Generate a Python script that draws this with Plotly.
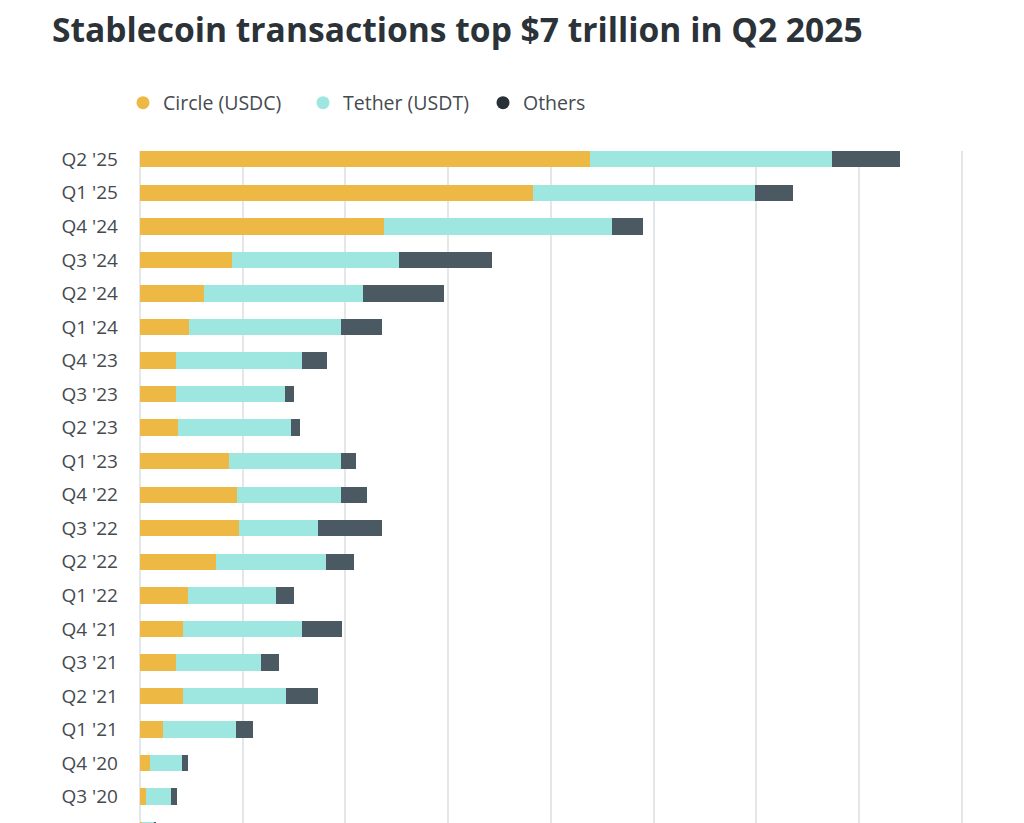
import plotly.graph_objects as go

quarters = ["Q2 '25", "Q1 '25", "Q4 '24", "Q3 '24", "Q2 '24", "Q1 '24",
            "Q4 '23", "Q3 '23", "Q2 '23", "Q1 '23", "Q4 '22", "Q3 '22",
            "Q2 '22", "Q1 '22", "Q4 '21", "Q3 '21", "Q2 '21", "Q1 '21",
            "Q4 '20", "Q3 '20", "Q2 '20"]

# Transaction volume, $ trillions
circle_usdc = [4.38, 3.83, 2.38, 0.90, 0.62, 0.48,
               0.35, 0.35, 0.37, 0.87, 0.94, 0.96,
               0.74, 0.47, 0.42, 0.35, 0.42, 0.22,
               0.10, 0.06, 0.02]
tether_usdt = [2.36, 2.16, 2.22, 1.62, 1.55, 1.48,
               1.23, 1.06, 1.10, 1.09, 1.02, 0.77,
               1.07, 0.85, 1.16, 0.83, 1.00, 0.71,
               0.31, 0.24, 0.12]
others = [0.66, 0.37, 0.30, 0.91, 0.79, 0.40,
          0.24, 0.09, 0.09, 0.14, 0.25, 0.63,
          0.27, 0.18, 0.39, 0.17, 0.31, 0.17,
          0.06, 0.06, 0.02]

series_names = ["Circle (USDC)", "Tether (USDT)", "Others"]
bar_colors = ["#EDB843", "#9EE7E1", "#4B5963"]
legend_colors = ["#EDB843", "#9EE7E1", "#2A3136"]
series_values = [circle_usdc, tether_usdt, others]

FONT = "Open Sans"

fig = go.Figure()
for name, vals, col in zip(series_names, series_values, bar_colors):
    fig.add_trace(go.Bar(
        y=quarters, x=vals, name=name, orientation="h",
        marker=dict(color=col, line=dict(width=0)),
        showlegend=False,
    ))
for name, col in zip(series_names, legend_colors):
    fig.add_trace(go.Scatter(
        x=[None], y=[None], mode="markers", name=name,
        marker=dict(color=col, size=13, symbol="circle"),
        showlegend=True,
    ))

fig.update_layout(
    width=1024, height=823,
    margin=dict(l=140, r=11, t=151, b=0),
    paper_bgcolor="white", plot_bgcolor="white",
    barmode="stack", bargap=0.51,
    font=dict(family=FONT, color="#454a4f"),
    title=dict(
        text="<b>Stablecoin transactions top $7 trillion in Q2 2025</b>",
        font=dict(family=FONT, size=33.6, color="#2B3238"),
        x=52/1024, xanchor="left", xref="container",
        y=1 - 30/823, yanchor="middle", yref="container",
    ),
    legend=dict(
        orientation="h", traceorder="normal",
        entrywidth=135, entrywidthmode="pixels",
        x=123/1024, xanchor="left", xref="container",
        y=1 - 103/823, yanchor="middle", yref="container",
        font=dict(family=FONT, size=19.5, color="#454a4f"),
        bgcolor="rgba(0,0,0,0)",
        itemclick=False,
    ),
    xaxis=dict(
        range=[0, 8.5], dtick=1,
        showgrid=True, gridcolor="#E3E7EA", gridwidth=1.5,
        zeroline=True, zerolinecolor="#E3E7EA", zerolinewidth=1.5,
        showticklabels=False, showline=False, fixedrange=True,
    ),
    yaxis=dict(
        type="category", categoryorder="array", categoryarray=quarters,
        range=[19.785, -0.245],
        showgrid=False, zeroline=False, showline=False,
        ticks="", ticklabelstandoff=21,
        tickfont=dict(family=FONT, size=19, color="#454a4f"),
        fixedrange=True,
    ),
)

fig.write_html("out.html")
